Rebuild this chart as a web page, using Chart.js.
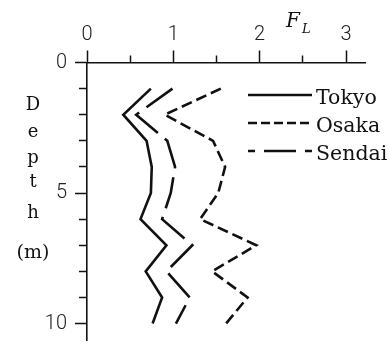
<!DOCTYPE html>
<html>
<head>
<meta charset="utf-8">
<script src="https://cdn.jsdelivr.net/npm/chart.js@4/dist/chart.umd.min.js"></script>
<style>
html,body{margin:0;padding:0;background:#fff;}
#wrap{width:389px;height:343px;}
</style>
</head>
<body>
<div id="wrap"><canvas id="c" width="389" height="343"></canvas></div>
<script>
const depths = [1, 2, 3, 4, 5, 6, 7, 8, 9, 10];
const tokyo  = [0.74, 0.42, 0.69, 0.75, 0.74, 0.62, 0.92, 0.68, 0.87, 0.76];
const osaka  = [1.55, 0.90, 1.46, 1.60, 1.52, 1.31, 1.96, 1.45, 1.86, 1.61];
const sendai = [0.99, 0.57, 0.93, 1.02, 0.97, 0.87, 1.22, 0.92, 1.19, 1.03];
const seriesNames = ['Tokyo', 'Osaka', 'Sendai'];
const xTicks = [0, 0.5, 1, 1.5, 2, 2.5, 3];
const xTickLabels = ['0', '', '1', '', '2', '', '3'];
const yTicks = [0, 1, 2, 3, 4, 5, 6, 7, 8, 9, 10];
const yTickLabels = ['0', '', '', '', '', '5', '', '', '', '', '10'];
const xTitle = ['F', 'L'];
const yTitle = ['D', 'e', 'p', 't', 'h', '(m)'];

const pts = arr => arr.map((v, i) => ({x: v, y: depths[i]}));
const tickFont = {family: 'Roboto, "Liberation Sans", sans-serif', size: 20, weight: 300};

const dashMinor = (labels) => (ctx) => labels[ctx.index] === '' ? [100, 100] : [];
const dashOffMinor = (labels, skip) => (ctx) => labels[ctx.index] === '' ? 200 - skip : 0;

const overlay = {
  id: 'overlay',
  afterDraw(chart) {
    const ctx = chart.ctx;
    ctx.save();
    ctx.fillStyle = '#111';
    ctx.textAlign = 'center';
    ctx.textBaseline = 'alphabetic';
    const ys = [110, 137, 163, 187, 218, 258];
    yTitle.forEach((t, i) => {
      ctx.font = (i === 5 ? '19px' : '18px') + ' "DejaVu Serif", serif';
      ctx.fillText(t, 33, ys[i]);
    });
    ctx.textAlign = 'left';
    ctx.font = 'italic 20px "DejaVu Serif", serif';
    ctx.fillText(xTitle[0], 286, 27);
    ctx.font = 'italic 13px "DejaVu Serif", serif';
    ctx.fillText(xTitle[1], 302, 33);
    const ly = [95, 123, 151];
    const offs = [0, 0, 25];
    chart.data.datasets.forEach((ds, i) => {
      ctx.beginPath();
      ctx.strokeStyle = '#111';
      ctx.lineWidth = 2.5;
      ctx.setLineDash(i === 1 ? [9, 4] : (ds.borderDash || []));
      ctx.lineDashOffset = offs[i];
      ctx.moveTo(248, ly[i]);
      ctx.lineTo(312, ly[i]);
      ctx.stroke();
      ctx.setLineDash([]);
      ctx.font = '20.5px "DejaVu Serif", serif';
      ctx.fillText(ds.label, 316, ly[i] + 8.5);
    });
    ctx.restore();
  }
};

new Chart(document.getElementById('c'), {
  type: 'scatter',
  data: {
    datasets: [
      {label: seriesNames[0], data: pts(tokyo), showLine: true, borderColor: '#111', borderWidth: 2.6, pointRadius: 0, borderDash: []},
      {label: seriesNames[1], data: pts(osaka), showLine: true, borderColor: '#111', borderWidth: 2.6, pointRadius: 0, borderDash: [11, 5]},
      {label: seriesNames[2], data: pts(sendai), showLine: true, borderColor: '#111', borderWidth: 2.6, pointRadius: 0, borderDash: [32, 9]}
    ]
  },
  options: {
    responsive: false,
    animation: false,
    devicePixelRatio: 1,
    layout: {padding: {left: 0, top: 0, right: 24, bottom: 3}},
    plugins: {legend: {display: false}, tooltip: {enabled: false}},
    scales: {
      x: {
        type: 'linear', position: 'top', min: 0, max: 3.22,
        afterBuildTicks: s => { s.ticks = xTicks.map(v => ({value: v})); },
        afterFit: s => { s.height = 62.5; s.paddingLeft = 0; s.paddingRight = 0; },
        ticks: {
          autoSkip: false, maxRotation: 0, padding: 4, color: '#222', font: tickFont,
          callback: (v, i) => xTickLabels[i]
        },
        grid: {
          drawOnChartArea: false, drawTicks: true, tickLength: 12, tickWidth: 1.5, tickColor: '#111',
          tickBorderDash: dashMinor(xTickLabels), tickBorderDashOffset: dashOffMinor(xTickLabels, 5)
        },
        border: {display: true, color: '#111', width: 1.6}
      },
      y: {
        type: 'linear', position: 'left', reverse: true, min: 0, max: 10.63,
        afterBuildTicks: s => { s.ticks = yTicks.map(v => ({value: v})); },
        afterFit: s => { s.width = 87; s.paddingTop = 0; s.paddingBottom = 0; },
        ticks: {
          autoSkip: false, padding: 8, color: '#222', font: tickFont,
          callback: (v, i) => yTickLabels[i]
        },
        grid: {
          drawOnChartArea: false, drawTicks: true, tickLength: 12, tickWidth: 1.5, tickColor: '#111',
          tickBorderDash: dashMinor(yTickLabels), tickBorderDashOffset: dashOffMinor(yTickLabels, 4)
        },
        border: {display: true, color: '#111', width: 1.6}
      }
    }
  },
  plugins: [overlay]
});
</script>
</body>
</html>
